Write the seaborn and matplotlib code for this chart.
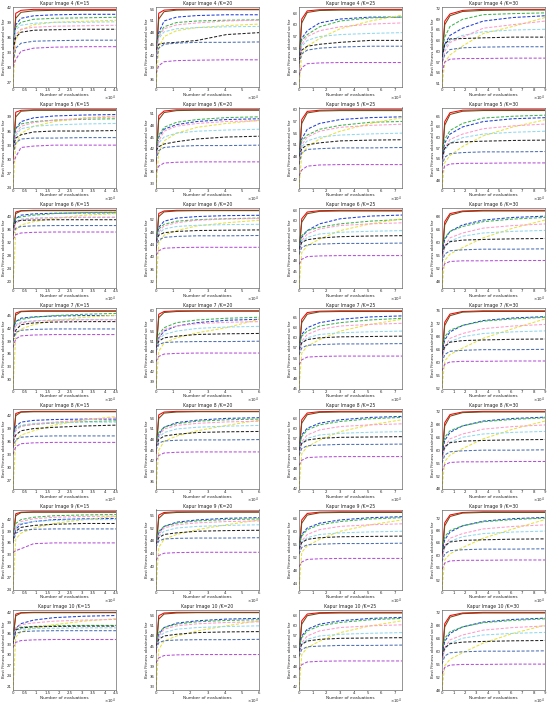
import numpy as np
import pandas as pd
import matplotlib
matplotlib.use("Agg")
import matplotlib.pyplot as plt
from matplotlib.ticker import MaxNLocator, FuncFormatter
import seaborn as sns

# ---------------- data ----------------
IMAGES = [4, 5, 6, 7, 8, 9, 10]
K_VALUES = [15, 20, 25, 30]
METHODS = ["red", "olive", "blue", "green", "yellow", "cyan", "pink", "black", "slate", "purple"]

# evaluation checkpoints per K column
X_K15 = [0, 1200, 3500, 9000, 18000, 31000, 45000]
X_K20 = [0, 1600, 4700, 12000, 24000, 41000, 60000]
X_K25 = [0, 2000, 6000, 15000, 30000, 52000, 75000]
X_K30 = [0, 2400, 7000, 18000, 36000, 62000, 90000]
X_MAX = [4.5e4, 6e4, 7.5e4, 9e4]

I4_K15 = [[30.5, 40.8, 41.4, 41.6, 41.6, 41.6, 41.6], [32.0, 39.8, 41.0, 41.3, 41.4, 41.4, 41.4],
          [34.5, 38.5, 39.8, 40.3, 40.5, 40.6, 40.6], [35.0, 38.0, 39.0, 39.6, 39.8, 39.9, 40.0],
          [26.0, 35.5, 37.5, 38.5, 39.0, 39.2, 39.4], [33.0, 37.5, 38.4, 38.8, 39.0, 39.0, 39.1],
          [32.0, 36.5, 37.6, 38.0, 38.2, 38.3, 38.4], [33.5, 36.0, 37.0, 37.4, 37.5, 37.6, 37.6],
          [31.0, 33.8, 34.8, 35.2, 35.3, 35.4, 35.4], [30.0, 31.5, 33.2, 33.8, 34.0, 34.1, 34.1]]
I4_K20 = [[40.0, 53.0, 53.8, 54.0, 54.0, 54.0, 54.0], [41.0, 51.5, 53.4, 53.8, 53.9, 53.9, 53.9],
          [44.0, 48.0, 51.0, 52.0, 52.4, 52.6, 52.6], [43.0, 47.5, 49.5, 50.6, 51.0, 51.2, 51.3],
          [34.0, 44.0, 47.0, 48.5, 49.3, 49.8, 50.2], [42.0, 46.5, 48.2, 49.0, 49.3, 49.5, 49.6],
          [41.0, 47.0, 49.0, 50.0, 50.5, 51.0, 51.2], [43.5, 45.0, 45.3, 45.5, 46.0, 47.5, 48.0],
          [40.0, 44.0, 45.0, 45.3, 45.5, 45.5, 45.6], [37.5, 39.5, 40.5, 40.8, 40.9, 41.0, 41.0]]
I4_K25 = [[50.0, 61.5, 63.6, 63.9, 64.0, 64.0, 64.0], [51.0, 60.5, 63.2, 63.7, 63.8, 63.8, 63.8],
          [52.0, 56.5, 58.5, 60.5, 61.5, 62.0, 62.0], [53.0, 56.0, 57.5, 59.5, 61.0, 61.8, 62.0],
          [44.0, 52.5, 54.5, 56.5, 59.0, 61.0, 62.5], [50.0, 54.5, 56.0, 57.0, 57.5, 57.8, 58.0],
          [49.0, 55.0, 57.0, 58.5, 59.5, 60.2, 60.5], [51.0, 53.5, 54.5, 55.0, 55.5, 56.0, 56.0],
          [50.0, 52.5, 53.5, 54.0, 54.3, 54.5, 54.5], [47.0, 49.0, 50.0, 50.2, 50.3, 50.3, 50.3]]
I4_K30 = [[58.0, 68.5, 70.5, 71.5, 71.8, 71.8, 71.8], [57.0, 67.5, 70.0, 71.2, 71.5, 71.6, 71.6],
          [58.0, 62.0, 64.5, 66.5, 68.5, 69.5, 70.0], [60.0, 64.0, 67.0, 69.0, 70.3, 70.6, 70.8],
          [50.0, 57.0, 59.0, 61.5, 65.0, 67.0, 69.5], [57.5, 61.0, 63.0, 64.5, 65.5, 66.0, 66.2],
          [56.0, 60.0, 62.5, 64.0, 66.5, 67.5, 68.5], [58.5, 62.0, 63.5, 63.6, 63.8, 64.0, 64.0],
          [57.0, 59.0, 60.5, 61.0, 61.2, 61.3, 61.3], [54.0, 57.0, 57.8, 58.0, 58.0, 58.1, 58.1]]

I5_K15 = [[30.0, 40.0, 40.4, 40.5, 40.5, 40.5, 40.5], [31.0, 39.0, 40.2, 40.4, 40.4, 40.4, 40.4],
          [33.5, 36.5, 38.0, 38.8, 39.2, 39.4, 39.5], [34.0, 36.5, 37.5, 38.0, 38.3, 38.5, 38.6],
          [24.0, 33.0, 35.5, 37.0, 38.0, 38.8, 39.2], [32.0, 35.0, 36.5, 37.0, 37.3, 37.5, 37.6],
          [31.5, 35.5, 37.0, 37.8, 38.3, 38.7, 39.0], [32.5, 34.5, 35.2, 35.8, 36.0, 36.0, 36.1],
          [31.0, 33.5, 34.3, 34.5, 34.5, 34.6, 34.6], [29.0, 30.5, 32.5, 32.8, 33.0, 33.0, 33.0]]
I5_K20 = [[38.0, 50.5, 51.7, 52.0, 52.0, 52.0, 52.0], [39.0, 49.5, 51.3, 51.8, 51.9, 51.9, 51.9],
          [41.0, 45.0, 47.0, 48.2, 49.0, 49.5, 49.7], [42.0, 45.5, 47.5, 48.8, 49.5, 50.0, 50.2],
          [32.0, 41.0, 44.0, 46.0, 47.5, 48.5, 49.3], [40.0, 43.5, 45.0, 46.0, 46.5, 46.8, 47.0],
          [39.5, 44.0, 46.5, 47.8, 48.5, 49.0, 49.2], [41.5, 42.5, 43.2, 43.8, 44.5, 45.0, 45.2],
          [39.0, 41.5, 42.3, 42.6, 42.8, 42.8, 42.9], [36.0, 37.5, 38.3, 38.5, 38.6, 38.6, 38.6]]
I5_K25 = [[46.0, 57.5, 59.6, 59.9, 60.0, 60.0, 60.0], [47.0, 56.5, 59.2, 59.7, 59.8, 59.8, 59.8],
          [48.5, 52.5, 55.0, 56.5, 57.5, 58.0, 58.2], [49.0, 52.0, 53.5, 55.0, 56.0, 56.8, 57.0],
          [40.0, 48.5, 50.5, 52.5, 54.5, 56.5, 58.0], [47.0, 50.5, 52.0, 53.0, 53.5, 53.8, 54.0],
          [46.5, 51.0, 53.0, 54.5, 55.5, 56.0, 56.3], [48.0, 50.0, 51.0, 51.5, 52.0, 52.2, 52.3],
          [46.0, 49.0, 49.8, 50.0, 50.2, 50.2, 50.3], [43.0, 44.5, 45.5, 45.8, 45.9, 45.9, 45.9]]
I5_K30 = [[54.0, 64.5, 67.0, 67.7, 67.8, 67.8, 67.8], [53.0, 63.5, 66.5, 67.4, 67.6, 67.6, 67.6],
          [54.5, 58.5, 61.0, 63.0, 64.5, 65.3, 65.6], [56.0, 59.5, 62.0, 64.0, 65.5, 66.0, 66.3],
          [46.0, 53.0, 55.0, 57.5, 60.5, 63.0, 65.0], [53.0, 56.5, 58.5, 60.0, 61.0, 61.5, 61.8],
          [52.5, 57.0, 59.5, 61.0, 62.5, 63.3, 63.8], [54.0, 57.0, 58.5, 58.8, 59.0, 59.2, 59.3],
          [52.0, 54.5, 55.5, 55.8, 56.0, 56.0, 56.1], [50.0, 52.0, 52.6, 52.8, 52.8, 52.9, 52.9]]

I6_K15 = [[34.0, 41.5, 41.9, 42.0, 42.0, 42.0, 42.0], [35.0, 41.0, 41.8, 41.9, 41.9, 41.9, 41.9],
          [37.0, 39.5, 40.5, 40.9, 41.1, 41.2, 41.2], [37.5, 39.5, 40.0, 40.5, 41.0, 41.3, 41.4],
          [18.0, 36.0, 37.5, 38.5, 39.5, 40.5, 41.0], [36.0, 38.5, 39.3, 39.6, 39.8, 39.9, 39.9],
          [35.5, 38.0, 39.0, 39.5, 39.7, 39.8, 39.8], [36.5, 38.5, 38.9, 39.0, 39.1, 39.1, 39.1],
          [34.5, 36.5, 37.0, 37.2, 37.3, 37.3, 37.3], [33.0, 34.5, 35.0, 35.2, 35.3, 35.3, 35.3]]
I6_K20 = [[42.0, 54.0, 54.8, 55.0, 55.0, 55.0, 55.0], [43.0, 53.0, 54.5, 54.8, 54.9, 54.9, 54.9],
          [45.0, 49.5, 51.5, 52.5, 53.0, 53.3, 53.4], [46.0, 49.0, 50.5, 51.5, 52.0, 52.3, 52.5],
          [30.0, 44.5, 47.0, 48.5, 50.0, 51.0, 51.8], [44.0, 47.5, 49.0, 49.8, 50.2, 50.4, 50.5],
          [43.5, 48.0, 50.0, 51.0, 51.8, 52.2, 52.4], [45.0, 47.0, 47.8, 48.2, 48.5, 48.6, 48.7],
          [43.0, 45.5, 46.3, 46.6, 46.8, 46.8, 46.9], [40.5, 42.0, 42.8, 43.0, 43.1, 43.1, 43.1]]
I6_K25 = [[50.0, 60.5, 62.5, 62.9, 63.0, 63.0, 63.0], [51.0, 59.5, 62.0, 62.7, 62.8, 62.8, 62.8],
          [52.0, 55.0, 57.0, 59.0, 60.5, 61.3, 61.6], [52.5, 55.5, 57.0, 58.0, 59.0, 59.8, 60.3],
          [40.0, 50.5, 52.5, 54.5, 57.0, 59.0, 60.5], [50.5, 53.5, 55.0, 56.0, 56.5, 56.8, 57.0],
          [50.0, 54.0, 56.0, 57.5, 58.5, 59.0, 59.3], [51.5, 53.5, 54.3, 54.8, 55.2, 55.4, 55.5],
          [50.0, 52.0, 52.8, 53.0, 53.2, 53.2, 53.3], [47.0, 48.5, 49.3, 49.5, 49.6, 49.6, 49.6]]
I6_K30 = [[56.0, 66.5, 69.0, 69.8, 70.0, 70.0, 70.0], [55.0, 65.5, 68.5, 69.6, 69.8, 69.8, 69.8],
          [57.0, 61.0, 63.5, 65.5, 67.0, 67.8, 68.2], [58.0, 61.5, 63.5, 65.0, 66.5, 67.3, 67.8],
          [46.0, 54.5, 56.5, 58.5, 61.5, 64.5, 67.0], [55.0, 58.5, 60.5, 62.0, 63.0, 63.5, 63.8],
          [54.5, 59.0, 61.5, 63.0, 64.5, 65.3, 65.8], [56.5, 59.0, 60.3, 60.8, 61.0, 61.2, 61.3],
          [54.0, 56.5, 57.5, 57.8, 58.0, 58.0, 58.1], [51.5, 53.5, 54.2, 54.4, 54.4, 54.5, 54.5]]

I7_K15 = [[40.0, 45.5, 45.9, 46.0, 46.0, 46.0, 46.0], [40.5, 45.0, 45.8, 45.9, 45.9, 45.9, 45.9],
          [41.5, 43.5, 44.3, 44.6, 44.8, 44.9, 44.9], [42.0, 43.5, 44.0, 44.5, 44.9, 45.2, 45.4],
          [28.0, 40.5, 41.8, 42.8, 43.8, 44.5, 45.0], [40.5, 42.8, 43.4, 43.7, 43.9, 44.0, 44.0],
          [40.0, 42.5, 43.2, 43.6, 43.8, 43.9, 43.9], [39.0, 41.5, 42.8, 43.2, 43.4, 43.5, 43.5],
          [39.0, 41.0, 41.5, 41.7, 41.8, 41.8, 41.8], [37.5, 39.5, 40.2, 40.4, 40.5, 40.5, 40.5]]
I7_K20 = [[47.0, 59.0, 59.8, 60.0, 60.0, 60.0, 60.0], [48.0, 58.0, 59.5, 59.8, 59.9, 59.9, 59.9],
          [49.0, 52.0, 54.0, 55.5, 56.5, 57.2, 57.5], [50.0, 53.0, 55.0, 56.5, 57.3, 57.8, 58.1],
          [37.0, 48.0, 50.5, 52.0, 53.5, 55.0, 57.5], [48.5, 51.5, 53.0, 54.0, 54.8, 55.2, 55.4],
          [48.0, 52.0, 54.5, 55.5, 56.2, 56.6, 56.8], [49.0, 51.0, 52.0, 52.5, 53.0, 53.2, 53.3],
          [48.0, 50.0, 50.6, 50.8, 50.9, 50.9, 51.0], [45.0, 46.5, 47.2, 47.4, 47.5, 47.5, 47.5]]
I7_K25 = [[55.0, 65.5, 67.5, 67.9, 68.0, 68.0, 68.0], [56.0, 64.5, 67.0, 67.7, 67.8, 67.8, 67.8],
          [57.0, 61.0, 63.0, 64.5, 65.5, 66.2, 66.5], [57.5, 60.5, 62.0, 63.5, 64.5, 65.3, 65.8],
          [45.0, 55.5, 57.5, 59.5, 62.0, 64.0, 65.5], [55.5, 58.5, 60.0, 61.0, 61.5, 61.8, 62.0],
          [55.0, 59.0, 61.0, 62.5, 63.5, 64.0, 64.3], [56.5, 58.5, 59.5, 60.0, 60.3, 60.4, 60.5],
          [55.0, 57.0, 57.8, 58.0, 58.2, 58.2, 58.3], [52.0, 53.5, 54.3, 54.5, 54.6, 54.6, 54.6]]
I7_K30 = [[62.0, 72.5, 75.0, 75.8, 76.0, 76.0, 76.0], [61.0, 71.5, 74.5, 75.6, 75.8, 75.8, 75.8],
          [63.0, 67.0, 69.5, 71.5, 73.0, 73.8, 74.2], [64.0, 68.0, 70.0, 71.5, 72.8, 73.5, 74.0],
          [52.0, 60.5, 62.5, 64.5, 67.5, 70.5, 73.5], [61.0, 64.5, 66.5, 68.0, 69.0, 69.5, 69.8],
          [60.5, 65.0, 67.5, 69.0, 70.5, 71.3, 71.8], [62.5, 65.0, 66.3, 66.8, 67.0, 67.2, 67.3],
          [60.0, 62.5, 63.5, 63.8, 64.0, 64.0, 64.1], [57.5, 59.5, 60.2, 60.4, 60.4, 60.5, 60.5]]

I8_K15 = [[35.0, 42.5, 42.9, 43.0, 43.0, 43.0, 43.0], [36.0, 42.0, 42.8, 42.9, 42.9, 42.9, 42.9],
          [37.0, 39.5, 40.5, 40.9, 41.1, 41.2, 41.2], [37.5, 39.0, 39.6, 40.0, 40.3, 40.6, 40.8],
          [25.0, 36.0, 37.5, 38.5, 39.8, 41.0, 41.8], [36.5, 39.0, 39.8, 40.2, 40.4, 40.5, 40.5],
          [36.0, 38.5, 39.5, 40.0, 40.5, 41.0, 41.5], [36.0, 37.5, 38.5, 39.0, 39.3, 39.6, 39.8],
          [34.5, 36.5, 37.0, 37.2, 37.3, 37.3, 37.3], [33.0, 34.8, 35.5, 35.7, 35.8, 35.8, 35.8]]
I8_K20 = [[44.0, 55.0, 55.8, 56.0, 56.0, 56.0, 56.0], [45.0, 54.0, 55.5, 55.8, 55.9, 55.9, 55.9],
          [46.0, 49.5, 51.5, 52.8, 53.5, 54.0, 54.2], [47.0, 50.0, 51.5, 52.5, 53.2, 53.6, 53.8],
          [34.0, 45.0, 47.5, 49.0, 50.5, 52.0, 53.5], [45.5, 48.5, 50.0, 51.0, 51.5, 51.8, 52.0],
          [45.0, 49.0, 51.0, 52.0, 52.6, 53.0, 53.2], [46.0, 48.0, 49.0, 49.5, 50.0, 50.2, 50.3],
          [45.0, 47.0, 47.6, 47.8, 47.9, 47.9, 48.0], [42.0, 43.5, 44.2, 44.4, 44.5, 44.5, 44.5]]
I8_K25 = [[52.0, 62.5, 64.5, 64.9, 65.0, 65.0, 65.0], [53.0, 61.5, 64.0, 64.7, 64.8, 64.8, 64.8],
          [54.0, 58.0, 60.0, 61.5, 62.5, 63.2, 63.5], [54.5, 57.5, 59.5, 61.0, 62.0, 62.8, 63.2],
          [42.0, 52.5, 54.5, 56.5, 59.0, 61.0, 62.5], [52.5, 55.5, 57.0, 58.0, 58.5, 58.8, 59.0],
          [52.0, 56.0, 58.0, 59.5, 60.5, 61.0, 61.3], [53.5, 55.5, 56.5, 57.0, 57.3, 57.4, 57.5],
          [52.0, 54.0, 54.8, 55.0, 55.2, 55.2, 55.3], [49.0, 50.5, 51.3, 51.5, 51.6, 51.6, 51.6]]
I8_K30 = [[58.0, 68.5, 71.0, 71.8, 72.0, 72.0, 72.0], [57.0, 67.5, 70.5, 71.6, 71.8, 71.8, 71.8],
          [59.0, 63.0, 65.5, 67.5, 69.0, 69.8, 70.2], [60.0, 64.0, 66.0, 67.5, 68.8, 69.5, 70.0],
          [48.0, 56.5, 58.5, 60.5, 63.5, 66.5, 69.0], [57.0, 60.5, 62.5, 64.0, 65.0, 65.5, 65.8],
          [56.5, 61.0, 63.5, 65.0, 66.5, 67.3, 67.8], [58.5, 61.0, 62.3, 62.8, 63.0, 63.2, 63.3],
          [56.0, 58.5, 59.5, 59.8, 60.0, 60.0, 60.1], [53.5, 55.5, 56.2, 56.4, 56.4, 56.5, 56.5]]

I9_K15 = [[36.0, 43.5, 43.9, 44.0, 44.0, 44.0, 44.0], [37.0, 43.0, 43.8, 43.9, 43.9, 43.9, 43.9],
          [37.5, 39.5, 40.8, 41.5, 42.0, 42.2, 42.3], [38.5, 41.0, 42.0, 42.6, 43.0, 43.2, 43.3],
          [24.0, 37.0, 38.5, 39.8, 41.0, 42.0, 42.8], [37.5, 40.0, 41.0, 41.5, 41.8, 42.0, 42.0],
          [37.0, 40.0, 41.5, 42.2, 42.6, 42.8, 42.9], [37.0, 39.0, 40.0, 40.5, 40.8, 41.0, 41.0],
          [36.0, 38.5, 39.2, 39.5, 39.6, 39.6, 39.6], [33.5, 34.0, 34.5, 35.8, 36.0, 36.0, 36.0]]
I9_K20 = [[45.0, 56.0, 56.8, 57.0, 57.0, 57.0, 57.0], [46.0, 55.0, 56.5, 56.8, 56.9, 56.9, 56.9],
          [47.0, 50.5, 52.5, 53.8, 54.5, 55.0, 55.2], [48.0, 51.0, 52.5, 53.5, 54.2, 54.6, 54.8],
          [33.0, 46.0, 48.5, 50.0, 51.5, 53.0, 54.5], [46.5, 49.5, 51.0, 52.0, 52.5, 52.8, 53.0],
          [46.0, 50.0, 52.0, 53.0, 53.6, 54.0, 54.2], [47.0, 49.0, 50.0, 50.5, 51.0, 51.2, 51.3],
          [46.0, 48.0, 48.6, 48.8, 48.9, 48.9, 49.0], [42.0, 43.5, 44.2, 44.4, 44.5, 44.5, 44.5]]
I9_K25 = [[53.0, 63.5, 65.5, 65.9, 66.0, 66.0, 66.0], [54.0, 62.5, 65.0, 65.7, 65.8, 65.8, 65.8],
          [55.0, 59.0, 61.0, 62.5, 63.5, 64.2, 64.5], [55.5, 58.5, 60.5, 62.0, 63.0, 63.8, 64.2],
          [42.0, 53.5, 55.5, 57.5, 60.0, 62.0, 63.5], [53.5, 56.5, 58.0, 59.0, 59.5, 59.8, 60.0],
          [53.0, 57.0, 59.0, 60.5, 61.5, 62.0, 62.3], [54.5, 56.5, 57.5, 58.0, 58.3, 58.4, 58.5],
          [53.0, 55.0, 55.8, 56.0, 56.2, 56.2, 56.3], [49.0, 50.5, 51.3, 51.5, 51.6, 51.6, 51.6]]
I9_K30 = [[60.0, 70.5, 73.0, 73.8, 74.0, 74.0, 74.0], [59.0, 69.5, 72.5, 73.6, 73.8, 73.8, 73.8],
          [61.0, 65.0, 67.5, 69.5, 71.0, 71.8, 72.2], [62.0, 66.0, 68.0, 69.5, 70.8, 71.5, 72.0],
          [49.0, 58.5, 60.5, 62.5, 65.5, 68.5, 71.5], [59.0, 62.5, 64.5, 66.0, 67.0, 67.5, 67.8],
          [58.5, 63.0, 65.5, 67.0, 68.5, 69.3, 69.8], [60.5, 63.0, 64.3, 64.8, 65.0, 65.2, 65.3],
          [58.0, 60.5, 61.5, 61.8, 62.0, 62.0, 62.1], [55.5, 57.5, 58.2, 58.4, 58.4, 58.5, 58.5]]

I10_K15 = [[34.0, 41.5, 41.9, 42.0, 42.0, 42.0, 42.0], [35.0, 41.0, 41.8, 41.9, 41.9, 41.9, 41.9],
           [35.5, 37.5, 38.8, 39.8, 40.5, 40.9, 41.1], [36.0, 37.5, 37.8, 38.0, 38.2, 38.3, 38.3],
           [20.0, 35.0, 36.5, 37.5, 38.5, 39.5, 40.2], [35.0, 36.8, 37.2, 37.4, 37.5, 37.6, 37.6],
           [34.5, 37.5, 38.5, 39.0, 39.5, 39.8, 40.0], [33.0, 37.0, 37.6, 37.9, 38.0, 38.1, 38.1],
           [34.0, 36.0, 36.5, 36.7, 36.8, 36.8, 36.8], [32.0, 33.5, 34.0, 34.2, 34.3, 34.3, 34.3]]
I10_K20 = [[43.0, 54.0, 54.8, 55.0, 55.0, 55.0, 55.0], [44.0, 53.0, 54.5, 54.8, 54.9, 54.9, 54.9],
           [45.0, 48.5, 50.5, 51.8, 52.5, 53.0, 53.2], [46.0, 49.0, 50.5, 51.5, 52.2, 52.6, 52.8],
           [32.0, 44.0, 46.5, 48.0, 49.5, 51.0, 52.5], [44.5, 47.5, 49.0, 50.0, 50.5, 50.8, 51.0],
           [44.0, 48.0, 50.0, 51.0, 51.6, 52.0, 52.2], [45.0, 47.0, 48.0, 48.5, 49.0, 49.2, 49.3],
           [44.0, 46.0, 46.6, 46.8, 46.9, 46.9, 47.0], [40.0, 41.5, 42.2, 42.4, 42.5, 42.5, 42.5]]
I10_K25 = [[51.0, 61.5, 63.5, 63.9, 64.0, 64.0, 64.0], [52.0, 60.5, 63.0, 63.7, 63.8, 63.8, 63.8],
           [53.0, 57.0, 59.0, 60.5, 61.5, 62.2, 62.5], [53.5, 56.5, 58.5, 60.0, 61.0, 61.8, 62.2],
           [41.0, 51.5, 53.5, 55.5, 58.0, 60.0, 61.5], [51.5, 54.5, 56.0, 57.0, 57.5, 57.8, 58.0],
           [51.0, 55.0, 57.0, 58.5, 59.5, 60.0, 60.3], [52.5, 54.5, 55.5, 56.0, 56.3, 56.4, 56.5],
           [51.0, 53.0, 53.8, 54.0, 54.2, 54.2, 54.3], [47.0, 48.5, 49.3, 49.5, 49.6, 49.6, 49.6]]
I10_K30 = [[58.0, 68.5, 71.0, 71.8, 72.0, 72.0, 72.0], [57.0, 67.5, 70.5, 71.6, 71.8, 71.8, 71.8],
           [59.0, 63.0, 65.5, 67.5, 69.0, 69.8, 70.2], [60.0, 64.0, 66.0, 67.5, 68.8, 69.5, 70.0],
           [48.0, 55.5, 57.5, 59.5, 62.5, 65.5, 68.0], [57.0, 60.5, 62.5, 64.0, 65.0, 65.5, 65.8],
           [56.5, 61.0, 63.5, 65.0, 66.5, 67.3, 67.8], [58.5, 61.0, 62.3, 62.8, 63.0, 63.2, 63.3],
           [56.0, 58.5, 59.5, 59.8, 60.0, 60.0, 60.1], [53.0, 55.0, 55.7, 55.9, 55.9, 56.0, 56.0]]

PANELS = [
    [I4_K15, I4_K20, I4_K25, I4_K30],
    [I5_K15, I5_K20, I5_K25, I5_K30],
    [I6_K15, I6_K20, I6_K25, I6_K30],
    [I7_K15, I7_K20, I7_K25, I7_K30],
    [I8_K15, I8_K20, I8_K25, I8_K30],
    [I9_K15, I9_K20, I9_K25, I9_K30],
    [I10_K15, I10_K20, I10_K25, I10_K30],
]
X_GRIDS = [X_K15, X_K20, X_K25, X_K30]

# ---------------- styles ----------------
PALETTE = {"red": "#ff0000", "olive": "#6b4f1d", "blue": "#1f3fd6", "green": "#3cb44b",
           "yellow": "#e6e23c", "cyan": "#8fd8ee", "pink": "#ff9acb", "black": "#222222",
           "slate": "#4a6fb5", "purple": "#b44fd8"}
DASHES = {m: (3, 1.6) for m in METHODS}
DASHES["red"] = ""
DASHES["olive"] = ""

sns.set_theme(style="white")
plt.rcParams["font.family"] = ["DejaVu Sans"]

W, H = 550, 705
fig = plt.figure(figsize=(W / 100, H / 100), dpi=100)

col_left = [13, 156, 299, 442]
ax_w = 103
ax_h = 80
row_top = [7, 107.5, 208, 308.5, 409, 509.5, 610]

sci_fmt = FuncFormatter(lambda v, p: f"{v / 1e4:g}")

for r, img in enumerate(IMAGES):
    for c, k in enumerate(K_VALUES):
        left = col_left[c] / W
        bottom = 1 - (row_top[r] + ax_h) / H
        ax = fig.add_axes([left, bottom, ax_w / W, ax_h / H])
        rows = []
        for m, ys in zip(METHODS, PANELS[r][c]):
            for xv, yv in zip(X_GRIDS[c], ys):
                rows.append((m, xv, yv))
        df = pd.DataFrame(rows, columns=["method", "evals", "fitness"])
        sns.lineplot(data=df, x="evals", y="fitness", hue="method", style="method",
                     palette=PALETTE, dashes=DASHES, hue_order=METHODS, style_order=METHODS,
                     linewidth=0.75, legend=False, ax=ax, estimator=None, sort=False)
        allv = np.concatenate([np.array(v) for v in PANELS[r][c]])
        lo, hi = allv.min(), allv.max()
        ax.set_ylim(lo, hi + 0.03 * (hi - lo))
        ax.yaxis.set_major_locator(MaxNLocator(nbins=8, integer=True))
        ax.set_xlim(0, X_MAX[c])
        if c == 0:
            ax.set_xticks(np.arange(0, 4.51e4, 0.5e4))
        else:
            ax.set_xticks(np.arange(0, X_MAX[c] + 1, 1e4))
        ax.xaxis.set_major_formatter(sci_fmt)
        ax.text(1.0, -0.085, r"$\times10^4$", transform=ax.transAxes, ha="right", va="top",
                fontsize=2.8)
        ax.tick_params(axis="both", which="both", direction="in", length=1.5, width=0.4,
                       labelsize=2.8, pad=0.8)
        for s in ax.spines.values():
            s.set_linewidth(0.4)
            s.set_color("#444444")
        ax.set_title(f"Kapur Image {img} /K={k}", fontsize=3.3, pad=1.2)
        ax.set_xlabel("Number of evaluations", fontsize=3.1, labelpad=0.6)
        ax.set_ylabel("Best Fitness obtained so far", fontsize=2.9, labelpad=0.8)

fig.savefig("out.png", dpi=100)
